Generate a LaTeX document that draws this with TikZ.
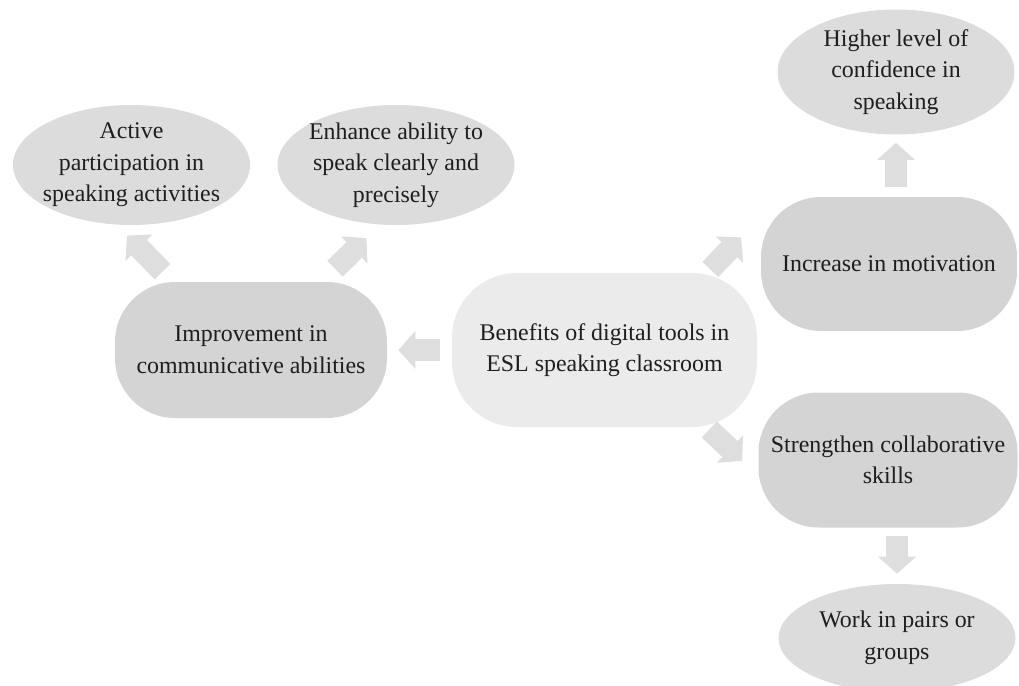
\documentclass[tikz,border=0pt]{standalone}
\usepackage{fontspec}
\setmainfont{Liberation Serif}
\usepackage{xcolor}
\usetikzlibrary{shapes.geometric,arrows.meta}
\definecolor{midgray}{HTML}{EBEBEB}
\definecolor{boxgray}{HTML}{D4D4D4}
\definecolor{ovalgray}{HTML}{DCDCDC}
\definecolor{arrgray}{HTML}{DEDEDE}
\definecolor{txtgray}{HTML}{1E1E1E}

\begin{document}
\begin{tikzpicture}[
  every node/.style={align=center, text=txtgray, font=\fontsize{13.6}{18}\selectfont},
  box/.style={rectangle, rounded corners=1.2cm, fill=boxgray, inner sep=0pt, minimum width=#1, minimum height=2.7cm},
  oval/.style={ellipse, fill=ovalgray, inner sep=-0.4cm, minimum width=4.74cm, minimum height=#1},
  blk/.style={arrgray, line width=0.44cm, -{Triangle[width=0.76cm,length=0.34cm,line width=0pt]}}]
  \useasboundingbox (0,0) rectangle (20.38,13.7);
  \node[box=6.1cm, minimum height=3.08cm, fill=midgray, rounded corners=1.3cm] (ctr) at (12.09,6.7) {Benefits of digital tools in\\ESL speaking classroom};
  \node[box=5.44cm, minimum height=2.72cm] (imp) at (5.02,6.7) {Improvement in\\communicative abilities};
  \node[box=5.12cm, minimum height=2.68cm] (inc) at (17.78,8.42) {Increase in motivation};
  \node[box=5.18cm] (str) at (17.76,4.5) {Strengthen collaborative\\skills};
  \node[oval=2.4cm] (act) at (2.63,10.4) {Active\\participation in\\speaking activities};
  \node[oval=2.4cm] (enh) at (7.92,10.4) {Enhance ability to\\speak clearly and\\precisely};
  \node[oval=2.5cm] (hig) at (17.92,12.26) {Higher level of\\confidence in\\speaking};
  \node[oval=2.16cm] (wrk) at (17.94,0.94) {Work in pairs or\\groups};
  \draw[blk, shorten <=0.24cm, shorten >=0.22cm] (ctr.west) -- (imp.east);
  \draw[blk, shorten <=0.28cm, shorten >=0.3cm] (imp.139) -- (act.256);
  \draw[blk, shorten <=0.37cm, shorten >=0.38cm] (imp.44) -- (enh.255);
  \draw[blk, shorten <=0.09cm, shorten >=0.56cm] (ctr.37) -- (inc.160);
  \draw[blk, shorten <=0.06cm, shorten >=0.44cm] (ctr.323) -- (str.187);
  \draw[blk, shorten <=0.2cm, shorten >=0.16cm] (inc.north -| hig.south) -- (hig.south);
  \draw[blk, shorten <=0.16cm, shorten >=0.2cm] (str.south -| wrk.north) -- (wrk.north);
\end{tikzpicture}
\end{document}
